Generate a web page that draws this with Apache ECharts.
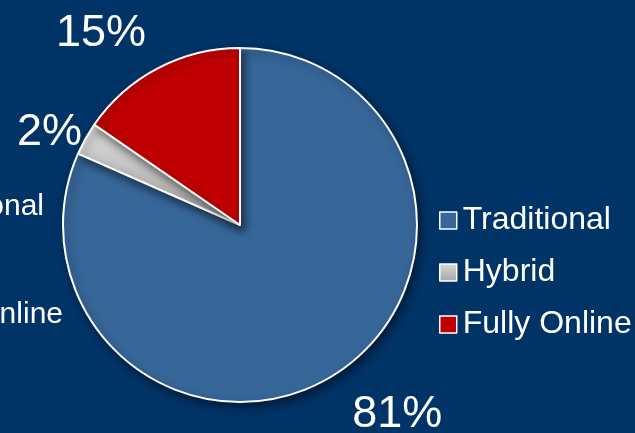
<!DOCTYPE html>
<html>
<head>
<meta charset="utf-8">
<script src="https://cdn.jsdelivr.net/npm/echarts@6/dist/echarts.min.js"></script>
<style>
  html, body { margin: 0; padding: 0; background: #003366; }
  #main { width: 635px; height: 433px; }
</style>
</head>
<body>
<div id="main"></div>
<script>
// data
const categories = ['Traditional', 'Hybrid', 'Fully Online'];
const values = [81.6, 3.0, 15.4];
const labelTexts = ['81%', '2%', '15%'];

// styling per slice
const colors = [
  '#376699',
  new echarts.graphic.LinearGradient(0, 0, 0, 1, [
    { offset: 0, color: '#dadada' },
    { offset: 1, color: '#a5a5a5' }
  ]),
  '#c00000'
];
const labelLengths = [45, 12, 40];
const labelShift = [[-14, 4], [12, 0], [12, 1]];

const FONT = 'Liberation Sans, Arial, sans-serif';

const chart = echarts.init(document.getElementById('main'));

chart.setOption({
  backgroundColor: '#003366',
  animation: false,
  legend: {
    orient: 'vertical',
    left: 434,
    top: 198,
    icon: 'rect',
    itemWidth: 17,
    itemHeight: 17,
    itemGap: 17,
    textStyle: {
      color: '#fff',
      fontSize: 32,
      lineHeight: 35,
      fontFamily: FONT,
      padding: [0, 0, 0, 1]
    },
    itemStyle: {
      borderColor: '#fff',
      borderWidth: 1.5
    },
    data: categories
  },
  graphic: [
    // the clipped text at the left edge
    {
      type: 'text',
      right: 591,
      top: 192,
      style: { text: 'Traditional', fill: '#fff', fontSize: 30, fontFamily: FONT }
    },
    {
      type: 'text',
      right: 572,
      top: 300,
      style: { text: 'Fully Online', fill: '#fff', fontSize: 30, fontFamily: FONT }
    }
  ],
  series: [
    {
      type: 'pie',
      center: [240, 225],
      radius: 177,
      startAngle: 90,
      clockwise: true,
      avoidLabelOverlap: false,
      itemStyle: {
        borderColor: '#fff',
        borderWidth: 2,
        shadowColor: 'rgba(0,0,0,0.45)',
        shadowBlur: 8,
        shadowOffsetX: 3,
        shadowOffsetY: 4
      },
      label: {
        show: true,
        position: 'outside',
        color: '#fff',
        fontSize: 45,
        fontFamily: FONT,
        formatter: (p) => labelTexts[p.dataIndex]
      },
      labelLine: { show: false, length2: 0 },
      labelLayout: (p) => ({ dx: labelShift[p.dataIndex][0], dy: labelShift[p.dataIndex][1] }),
      emphasis: { disabled: true },
      data: categories.map((name, i) => ({
        name: name,
        value: values[i],
        itemStyle: { color: colors[i] },
        labelLine: { show: false, length: labelLengths[i], length2: 0 }
      }))
    }
  ]
});
</script>
</body>
</html>
